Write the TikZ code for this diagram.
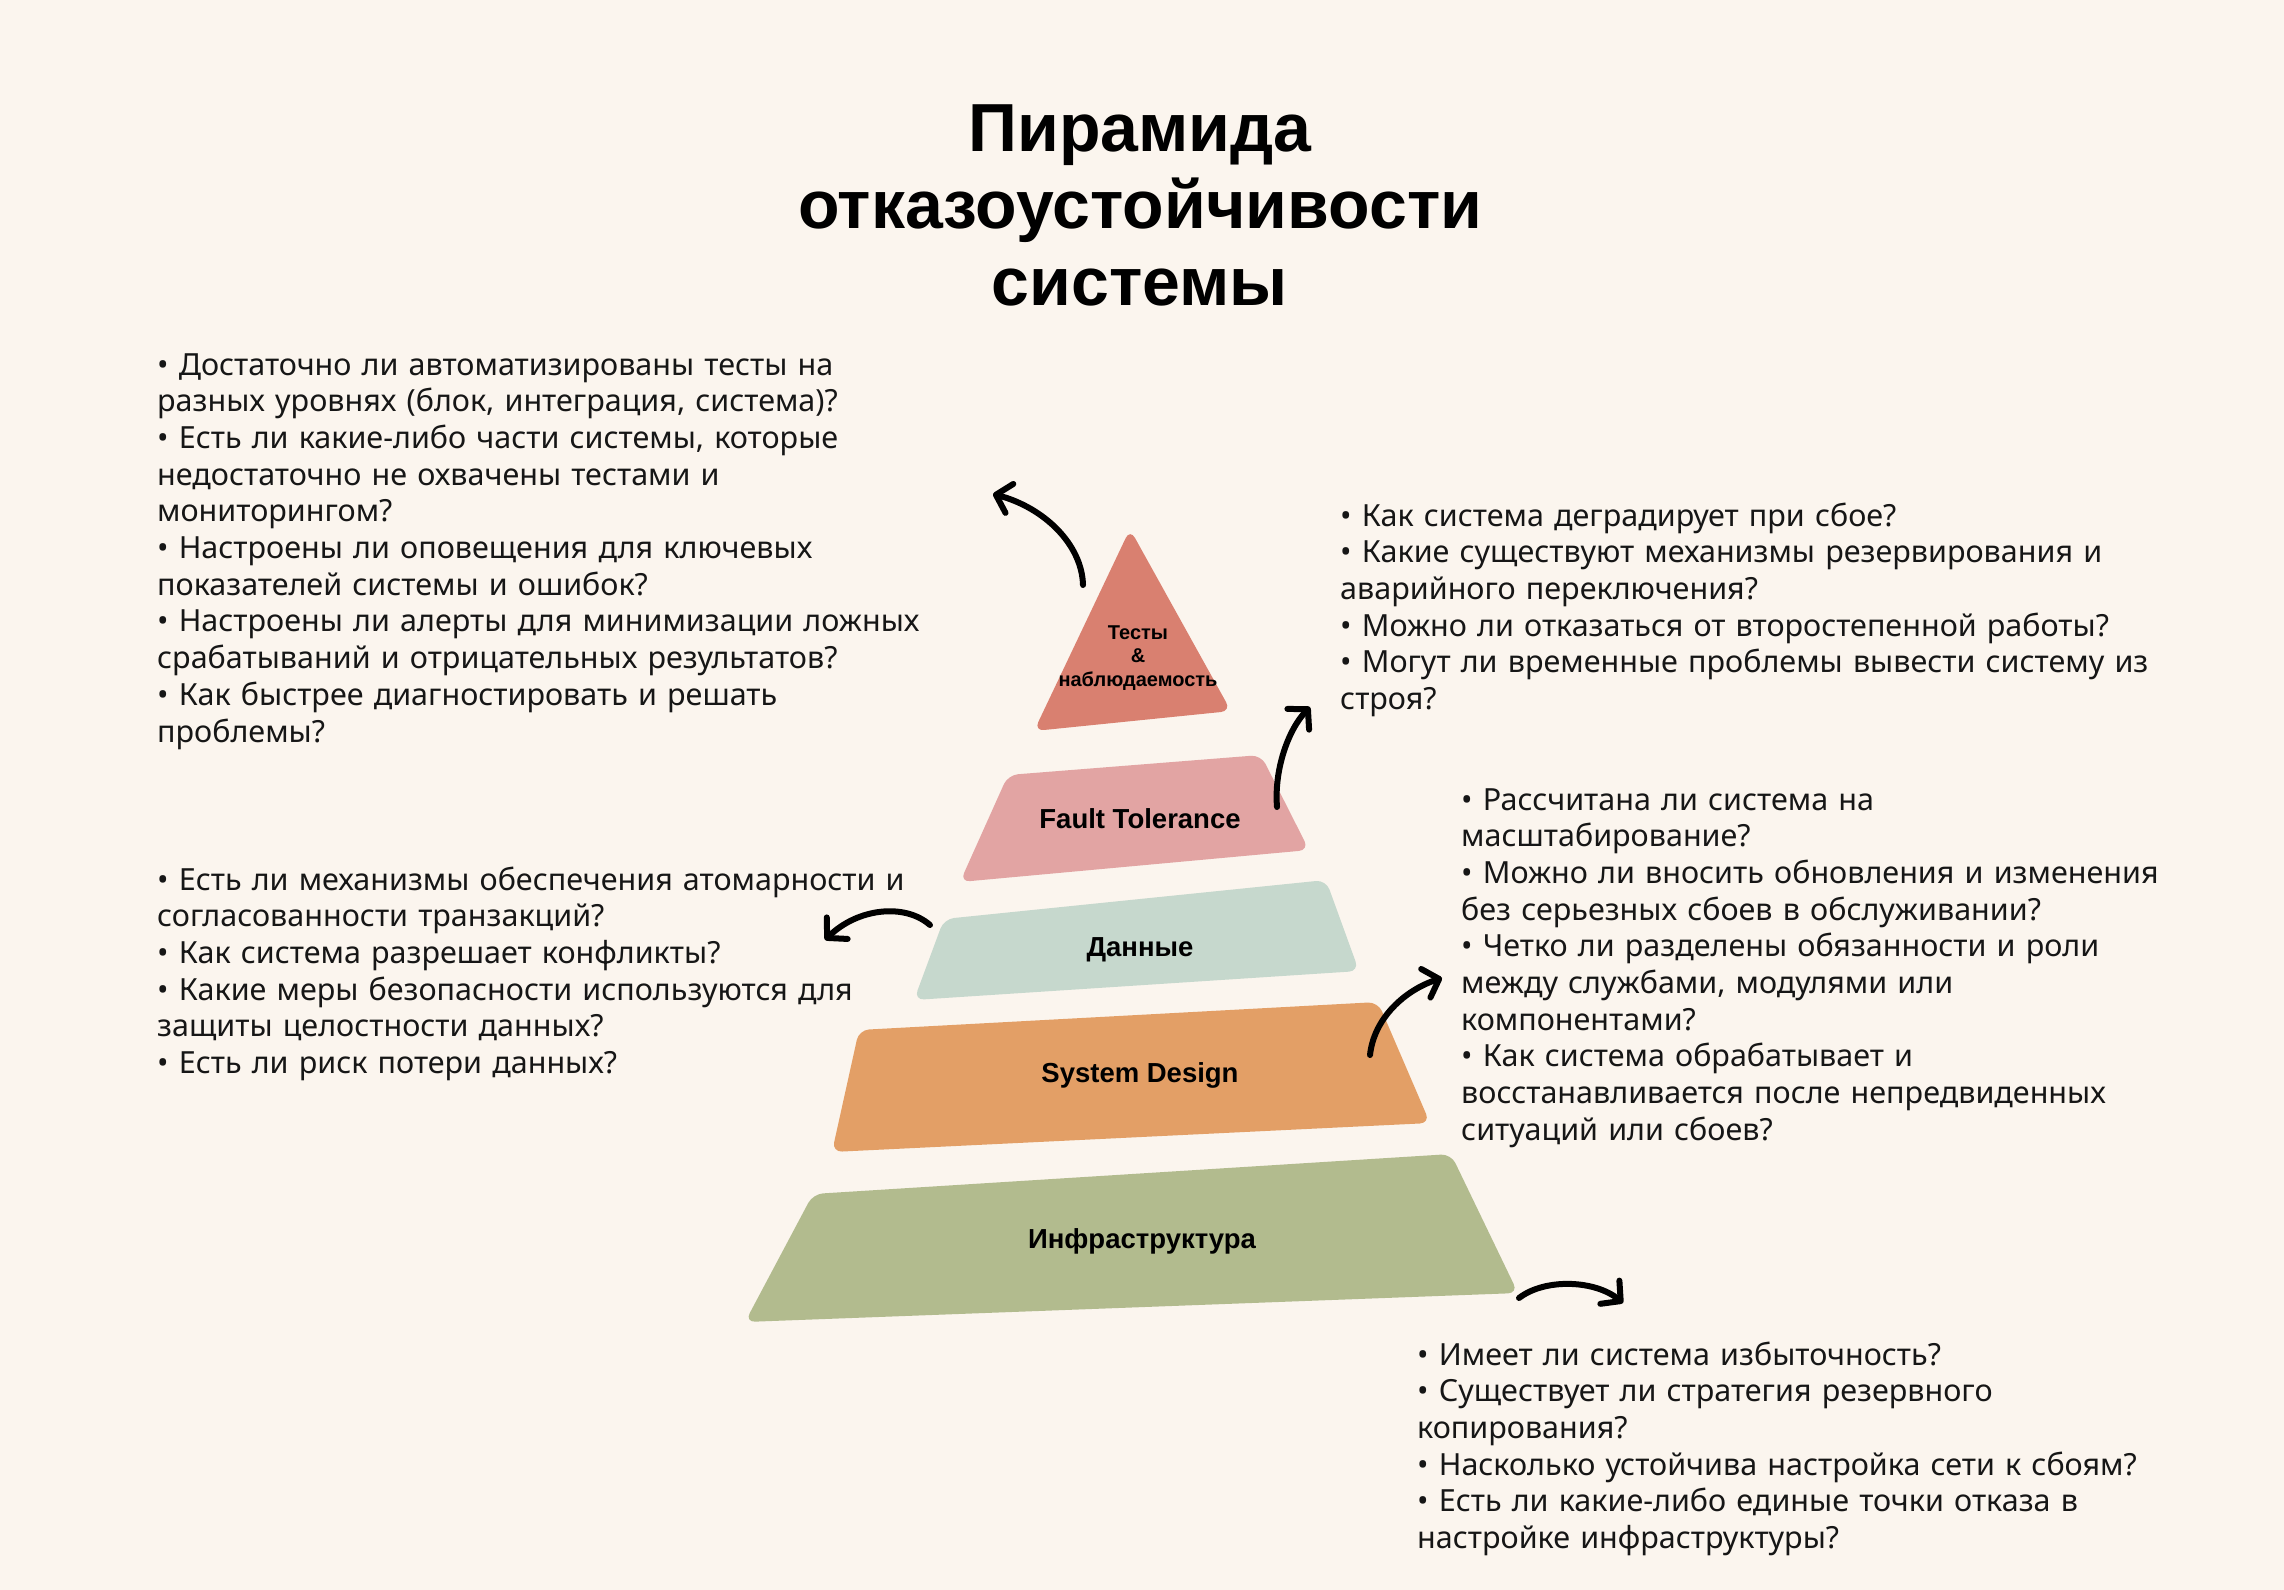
\documentclass[tikz,border=0pt]{standalone}
\usepackage{fontspec}
\setmainfont{Liberation Sans}
\newfontfamily\bodyfont{Noto Sans}
\usetikzlibrary{arrows.meta}
\definecolor{bgc}{HTML}{FBF5EE}
\definecolor{triC}{HTML}{D98070}
\definecolor{ftC}{HTML}{E2A4A3}
\definecolor{dataC}{HTML}{C6D8CD}
\definecolor{sdC}{HTML}{E39F66}
\definecolor{infC}{HTML}{B2BB8E}
\definecolor{txt}{HTML}{161616}
\begin{document}
\begin{tikzpicture}[x=1pt,y=-1pt,
  body/.style={anchor=base west, inner sep=0pt, text width=1000pt, align=left, text=txt,
    font=\bodyfont\fontsize{30.5}{36.7}\selectfont},
  layer/.style={rounded corners=10pt},
  lbl/.style={text=black, font=\fontsize{27.5}{30}\selectfont\bfseries},
  harrow/.style={line width=6pt, line cap=round, black,
    -{Straight Barb[length=14pt,width=30pt,line cap=round,line join=round]}}]
\useasboundingbox (0,0) rectangle (2284,1590);
\fill[bgc] (0,0) rectangle (2284,1590);

% title
\node[align=center, font=\fontsize{68}{77}\selectfont\bfseries, text=black] (title) at (1140,205)
  {Пирамида\\отказоустойчивости\\системы};

% pyramid layers
\fill[triC, layer] (1130,529) -- (1231,711) -- (1034,731) -- cycle;
\fill[ftC, layer] (1008,775) -- (1261,755) -- (1309,850) -- (960,882) -- cycle;
\fill[dataC, layer] (944,919) -- (1326,880) -- (1359,971) -- (914,1000) -- cycle;
\fill[sdC, layer] (859,1030) -- (1378,1002) -- (1430,1123) -- (832,1152) -- cycle;
\fill[infC, layer] (813,1194) -- (1451,1154) -- (1518,1293) -- (745,1322) -- cycle;

\node[align=center, font=\fontsize{20}{23.5}\selectfont\bfseries] (tri) at (1138,658)
  {Тесты\\\&\\наблюдаемость};
\node[lbl] (ft) at (1140,819) {Fault Tolerance};
\node[lbl] (data) at (1140,950) {Данные};
\node[lbl] (sd) at (1140,1075) {System Design};
\node[lbl] (inf) at (1142,1241) {Инфраструктура};

% text blocks
\node[body] (b1) at (157,375) {• Достаточно ли автоматизированы тесты на\\
разных уровнях (блок, интеграция, система)?\\
• Есть ли какие-либо части системы, которые\\
недостаточно не охвачены тестами и\\
мониторингом?\\
• Настроены ли оповещения для ключевых\\
показателей системы и ошибок?\\
• Настроены ли алерты для минимизации ложных\\
срабатываний и отрицательных результатов?\\
• Как быстрее диагностировать и решать\\
проблемы?};

\node[body] (b2) at (1340,526) {• Как система деградирует при сбое?\\
• Какие существуют механизмы резервирования и\\
аварийного переключения?\\
• Можно ли отказаться от второстепенной работы?\\
• Могут ли временные проблемы вывести систему из\\
строя?};

\node[body] (b3) at (1461,810) {• Рассчитана ли система на\\
масштабирование?\\
• Можно ли вносить обновления и изменения\\
без серьезных сбоев в обслуживании?\\
• Четко ли разделены обязанности и роли\\
между службами, модулями или\\
компонентами?\\
• Как система обрабатывает и\\
восстанавливается после непредвиденных\\
ситуаций или сбоев?};

\node[body] (b4) at (157,890) {• Есть ли механизмы обеспечения атомарности и\\
согласованности транзакций?\\
• Как система разрешает конфликты?\\
• Какие меры безопасности используются для\\
защиты целостности данных?\\
• Есть ли риск потери данных?};

\node[body] (b5) at (1417,1365) {• Имеет ли система избыточность?\\
• Существует ли стратегия резервного\\
копирования?\\
• Насколько устойчива настройка сети к сбоям?\\
• Есть ли какие-либо единые точки отказа в\\
настройке инфраструктуры?};

% arrows
\coordinate (a1s) at (1083,585); \coordinate (a1e) at (993,494);
\coordinate (a2s) at (1277,807); \coordinate (a2e) at (1310,707);
\coordinate (a3s) at (930,925);  \coordinate (a3e) at (825,940);
\coordinate (a4s) at (1370,1055); \coordinate (a4e) at (1442,978);
\coordinate (a5s) at (1519,1298); \coordinate (a5e) at (1623,1303);
\draw[harrow] (a1s) .. controls (1082,545) and (1045,508) .. (a1e);
\draw[harrow] (a2s) .. controls (1274,770) and (1288,730) .. (a2e);
\draw[harrow] (a3s) .. controls (905,903) and (858,908) .. (a3e);
\draw[harrow] (a4s) .. controls (1374,1018) and (1405,990) .. (a4e);
\draw[harrow] (a5s) .. controls (1545,1278) and (1595,1280) .. (a5e);
\end{tikzpicture}
\end{document}
